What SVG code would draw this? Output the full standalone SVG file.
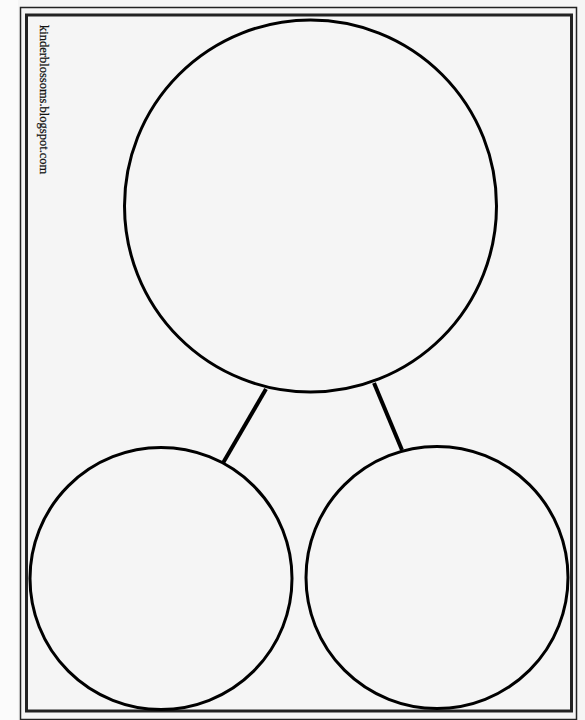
<svg xmlns="http://www.w3.org/2000/svg" width="585" height="720" viewBox="0 0 585 720">
<style>
.frame{fill:none;stroke:#222}
.node{fill:none;stroke:#000;stroke-width:3}
.conn{stroke:#000;stroke-width:4;stroke-linecap:butt}
.label{font-family:"Liberation Serif",serif;font-size:12.5px;fill:#111;stroke:#111;stroke-width:0.25}
</style>
<rect x="0" y="0" width="585" height="720" fill="#f5f5f5"/>
<rect x="0" y="0" width="18" height="720" fill="#fbfbfb"/>
<rect class="frame" x="20.5" y="7.5" width="556" height="712" stroke-width="1.5"/>
<rect class="frame" x="26.5" y="15" width="545" height="696" stroke-width="3"/>
<text class="label" transform="translate(40,25) rotate(90)">kinderblossoms.blogspot.com</text>
<g id="connectors">
<line class="conn" x1="266" y1="389" x2="223" y2="463"/>
<line class="conn" x1="374" y1="383" x2="402" y2="450"/>
</g>
<g id="top"><circle class="node" cx="310.5" cy="206" r="186"/></g>
<g id="left"><circle class="node" cx="161" cy="578.5" r="131"/></g>
<g id="right"><circle class="node" cx="437" cy="577.5" r="131"/></g>
</svg>
